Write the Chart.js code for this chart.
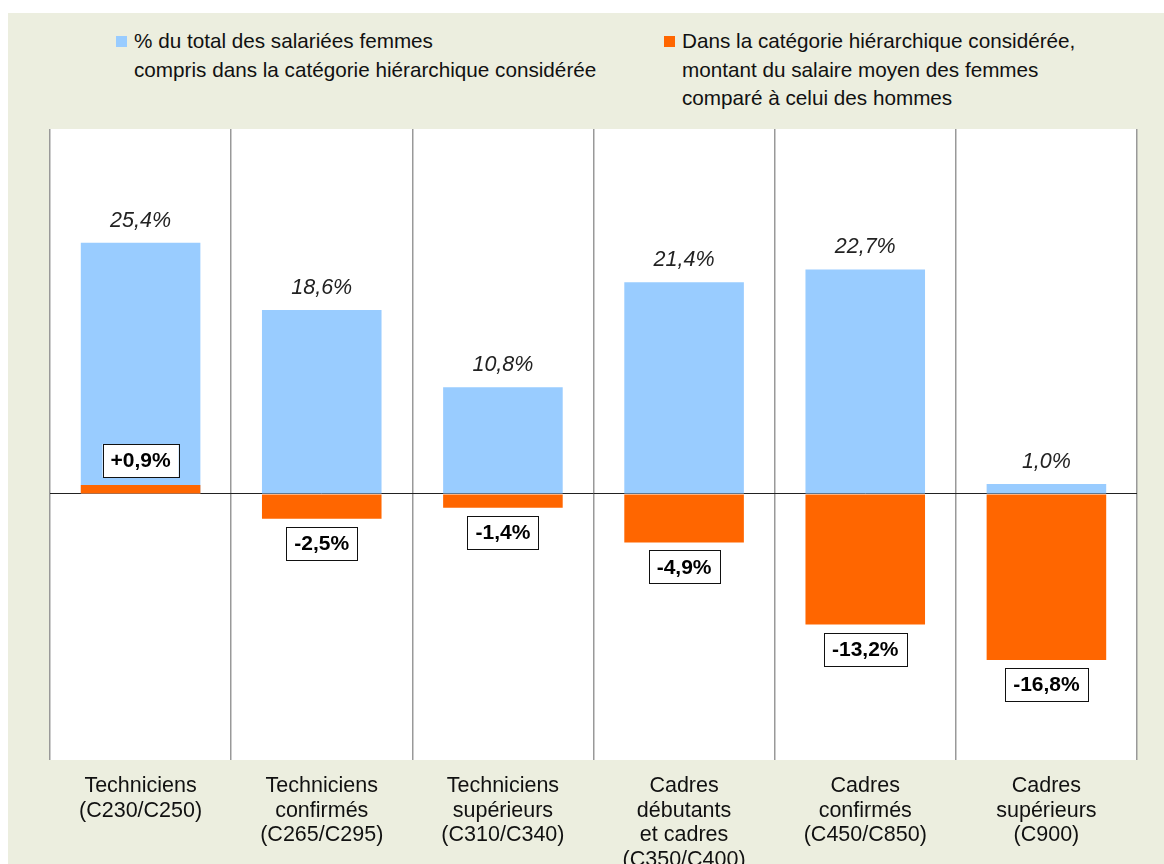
<!DOCTYPE html>
<html lang="fr">
<head>
<meta charset="utf-8">
<title>Salariées femmes par catégorie hiérarchique</title>
<script src="https://cdn.jsdelivr.net/npm/chart.js@4"></script>
<style>
  html, body { margin: 0; padding: 0; background: #fff; overflow: hidden; }
  body { width: 1164px; height: 864px; position: relative; font-family: "Liberation Sans", Arial, sans-serif; }
  #panel { position: absolute; left: 8px; top: 13px; right: 0; bottom: 0; background: #ECEEDF; }
  .legend { position: absolute; font-size: 20.7px; line-height: 28.7px; color: #111; white-space: nowrap; }
  .legend .sw { position: absolute; left: -18px; top: 9px; width: 11px; height: 11px; }
  #wrap { position: absolute; left: 0; top: 0; width: 1164px; height: 900px; }
</style>
</head>
<body>
<div id="panel"></div>
<div class="legend" style="left:134px; top:27px;">
  <span class="sw" style="background:#99CCFF"></span>% du total des salariées femmes<br>compris dans la catégorie hiérarchique considérée
</div>
<div class="legend" style="left:682px; top:27px;">
  <span class="sw" style="background:#FF6600"></span>Dans la catégorie hiérarchique considérée,<br>montant du salaire moyen des femmes<br>comparé à celui des hommes
</div>
<div id="wrap"><canvas id="chart" width="1164" height="900"></canvas></div>
<script>
// Data
const categories = [
    ['Techniciens', '(C230/C250)'],
    ['Techniciens', 'confirmés', '(C265/C295)'],
    ['Techniciens', 'supérieurs', '(C310/C340)'],
    ['Cadres', 'débutants', 'et cadres', '(C350/C400)'],
    ['Cadres', 'confirmés', '(C450/C850)'],
    ['Cadres', 'supérieurs', '(C900)']
];
const shareWomen = [25.4, 18.6, 10.8, 21.4, 22.7, 1.0];
const salaryGap = [0.9, -2.5, -1.4, -4.9, -13.2, -16.8];

const BLUE = '#99CCFF';
const ORANGE = '#FF6600';

function fmt(v, sign) {
    const s = v.toFixed(1).replace('.', ',') + '%';
    return (sign && v > 0 ? '+' : '') + s;
}

// White plot background
const plotBg = {
    id: 'plotBg',
    beforeDraw(chart) {
        const { ctx, chartArea: a } = chart;
        ctx.save();
        ctx.fillStyle = '#fff';
        ctx.fillRect(a.left, a.top, a.right - a.left, a.bottom - a.top);
        ctx.restore();
    }
};

// Value labels
const valueLabels = {
    id: 'valueLabels',
    afterDatasetsDraw(chart) {
        const ctx = chart.ctx;
        ctx.save();
        ctx.textAlign = 'center';
        ctx.textBaseline = 'middle';

        // blue: italic above bar
        const blueMeta = chart.getDatasetMeta(1);
        ctx.font = 'italic 21.5px "Liberation Sans", Arial, sans-serif';
        ctx.fillStyle = '#222';
        blueMeta.data.forEach((bar, i) => {
            ctx.fillText(fmt(shareWomen[i], false), bar.x, bar.y - 22);
        });

        // orange: bold in a box
        const orangeMeta = chart.getDatasetMeta(0);
        ctx.font = 'bold 21px "Liberation Sans", Arial, sans-serif';
        orangeMeta.data.forEach((bar, i) => {
            const txt = fmt(salaryGap[i], true);
            const w = ctx.measureText(txt).width + 16;
            const h = 33;
            const cy = salaryGap[i] >= 0 ? bar.y - 8 - h / 2 : bar.y + 8 + h / 2;
            ctx.fillStyle = '#fff';
            ctx.fillRect(bar.x - w / 2, cy - h / 2, w, h);
            ctx.strokeStyle = '#111';
            ctx.lineWidth = 1;
            ctx.strokeRect(Math.round(bar.x - w / 2) + 0.5, Math.round(cy - h / 2) + 0.5, Math.round(w), h);
            ctx.fillStyle = '#000';
            ctx.fillText(txt, bar.x, cy + 1);
        });
        ctx.restore();
    }
};

new Chart(document.getElementById('chart'), {
    type: 'bar',
    data: {
        labels: categories,
        datasets: [
            {
                label: 'Dans la catégorie hiérarchique considérée, montant du salaire moyen des femmes comparé à celui des hommes',
                data: salaryGap,
                backgroundColor: ORANGE,
                order: 0
            },
            {
                label: '% du total des salariées femmes compris dans la catégorie hiérarchique considérée',
                data: shareWomen,
                backgroundColor: BLUE,
                order: 1
            }
        ]
    },
    options: {
        responsive: false,
        animation: false,
        devicePixelRatio: 1,
        layout: { padding: { left: 0, right: 27, top: 129, bottom: 0 } },
        datasets: {
            bar: { grouped: false, barPercentage: 0.66, categoryPercentage: 1 }
        },
        plugins: {
            legend: { display: false },
            tooltip: { enabled: false }
        },
        scales: {
            x: {
                grid: { offset: true, color: '#999', lineWidth: 1.5, drawTicks: false },
                border: { display: false },
                ticks: {
                    color: '#111',
                    padding: 14,
                    maxRotation: 0,
                    autoSkip: false,
                    font: { family: '"Liberation Sans", Arial, sans-serif', size: 21.5, lineHeight: 1.14 }
                },
                afterFit(scale) { scale.height = 140; }
            },
            y: {
                min: -26.9,
                max: 36.9,
                afterBuildTicks(scale) { scale.ticks = [{ value: 0 }]; },
                afterFit(scale) { scale.width = 50; },
                ticks: { display: false },
                border: { display: false },
                grid: { color: '#222', lineWidth: 1, drawTicks: false }
            }
        }
    },
    plugins: [plotBg, valueLabels]
});
</script>
</body>
</html>
